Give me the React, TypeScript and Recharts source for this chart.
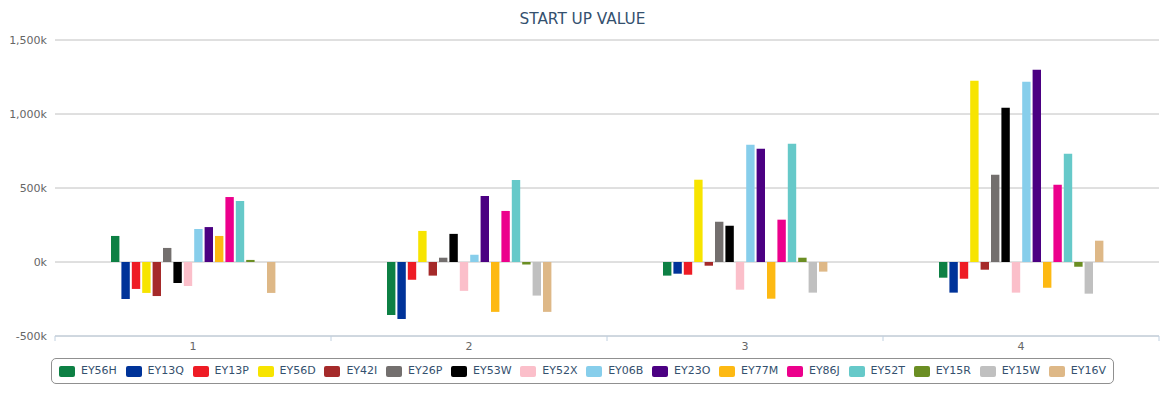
import React from "react";
import { BarChart, Bar, XAxis, YAxis, CartesianGrid } from "recharts";

const categories = ["1", "2", "3", "4"];

const seriesNames = [
  "EY56H", "EY13Q", "EY13P", "EY56D", "EY42I", "EY26P", "EY53W", "EY52X",
  "EY06B", "EY23O", "EY77M", "EY86J", "EY52T", "EY15R", "EY15W", "EY16V",
];

const seriesColors = [
  "#0d8044", "#003399", "#ee1c25", "#f7e400", "#a52a2a", "#736f6e", "#000000", "#fbbfca",
  "#87ceeb", "#4b0082", "#fdb913", "#ec008c", "#66c9c9", "#6b8e23", "#c0c0c0", "#deb887",
];

// values per series, in category order 1..4
const EY56H = [176000, -358000, -92000, -106000];
const EY13Q = [-250000, -385000, -79000, -207000];
const EY13P = [-182000, -120000, -86000, -113000];
const EY56D = [-209000, 210000, 556000, 1225000];
const EY42I = [-230000, -92000, -25000, -52000];
const EY26P = [95000, 29000, 272000, 590000];
const EY53W = [-142000, 190000, 245000, 1043000];
const EY52X = [-162000, -195000, -187000, -207000];
const EY06B = [223000, 49000, 793000, 1218000];
const EY23O = [236000, 446000, 765000, 1299000];
const EY77M = [176000, -337000, -248000, -174000];
const EY86J = [439000, 345000, 286000, 522000];
const EY52T = [412000, 554000, 799000, 732000];
const EY15R = [14000, -17000, 29000, -32000];
const EY15W = [0, -227000, -207000, -214000];
const EY16V = [-209000, -337000, -65000, 144000];

const seriesValues = [
  EY56H, EY13Q, EY13P, EY56D, EY42I, EY26P, EY53W, EY52X,
  EY06B, EY23O, EY77M, EY86J, EY52T, EY15R, EY15W, EY16V,
];

const yTicks = [-500000, 0, 500000, 1000000, 1500000];

const data = categories.map((c, i) => {
  const row: Record<string, any> = { name: c };
  seriesNames.forEach((s, j) => {
    row[s] = seriesValues[j][i];
  });
  return row;
});

const CHART_W = 1165;
const CHART_H = 397;
const PLOT_LEFT = 55;
const PLOT_RIGHT = 6;
const BAND = (CHART_W - PLOT_LEFT - PLOT_RIGHT) / categories.length;

const XTick = (props: any) => {
  const { x, y, payload, index } = props;
  const axisY = y - 6;
  return (
    <g>
      <line x1={x - BAND / 2} x2={x - BAND / 2} y1={axisY} y2={axisY + 5} stroke="#c0d0e0" />
      {index === categories.length - 1 && (
        <line x1={x + BAND / 2} x2={x + BAND / 2} y1={axisY} y2={axisY + 5} stroke="#c0d0e0" />
      )}
      <text x={x} y={y} dy="0.71em" textAnchor="middle" fill="#666" fontSize={11} fontFamily="DejaVu Sans">
        {payload.value}
      </text>
    </g>
  );
};

const fmtY = (v: number) => (v / 1000).toLocaleString("en-US") + "k";

export default function App() {
  return (
    <div style={{ position: "absolute", left: 0, top: 0, width: CHART_W, height: CHART_H, background: "#fff", fontFamily: "DejaVu Sans" }}>
      <div
        style={{
          position: "absolute",
          left: 0,
          top: 9,
          width: CHART_W,
          textAlign: "center",
          fontSize: 15.3,
          color: "#34506e",
          lineHeight: "20px",
        }}
      >
        START UP VALUE
      </div>
      <BarChart
        width={CHART_W}
        height={CHART_H}
        data={data}
        margin={{ top: 40, right: PLOT_RIGHT, bottom: 31, left: 0 }}
        barGap={2}
        barSize={8.4}
      >
        <CartesianGrid vertical={false} stroke="#c0c0c0" />
        <XAxis
          dataKey="name"
          height={30}
          tick={<XTick />}
          tickLine={false}
          tickSize={4}
          tickMargin={2}
          axisLine={{ stroke: "#c0d0e0" }}
          interval={0}
        />
        <YAxis
          width={PLOT_LEFT}
          domain={[-500000, 1500000]}
          ticks={yTicks}
          tickFormatter={fmtY}
          axisLine={false}
          tickLine={false}
          tickSize={0}
          tickMargin={8}
          tick={{ fill: "#666", fontSize: 11, fontFamily: "DejaVu Sans" }}
          allowDataOverflow
        />
        {seriesNames.map((s, j) => (
          <Bar key={s} dataKey={s} fill={seriesColors[j]} isAnimationActive={false} />
        ))}
      </BarChart>
      <div
        style={{
          position: "absolute",
          top: 358,
          left: 0,
          width: CHART_W,
          display: "flex",
          justifyContent: "center",
        }}
      >
        <div
          style={{
            display: "flex",
            alignItems: "center",
            border: "1px solid #909090",
            borderRadius: 5,
            height: 24,
            padding: "0 7px",
            gap: 8.7,
          }}
        >
          {seriesNames.map((s, j) => (
            <div key={s} style={{ display: "flex", alignItems: "center" }}>
              <div style={{ width: 16, height: 11, borderRadius: 2, background: seriesColors[j], marginRight: 6 }} />
              <span style={{ fontSize: 11, color: "#34506e", lineHeight: "14px" }}>{s}</span>
            </div>
          ))}
        </div>
      </div>
    </div>
  );
}
